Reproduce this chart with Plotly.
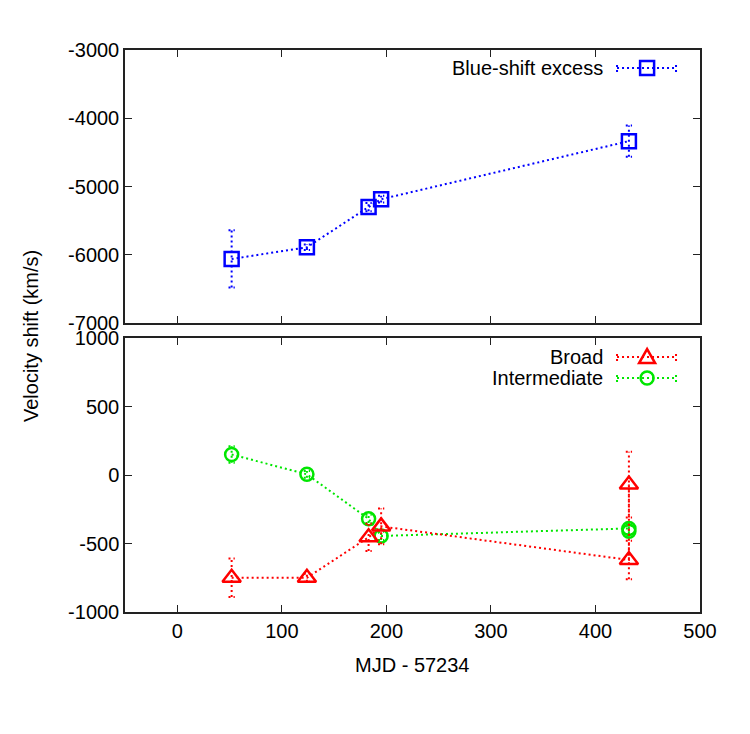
import plotly.graph_objects as go

# ---------------- data ----------------
blue_x = [52, 124, 183, 195, 432]
blue_y = [-6060, -5890, -5300, -5185, -4335]
blue_err = [420, 40, 60, 50, 230]

broad_x = [52, 124, 183, 195, 432, 432]
broad_y = [-750, -750, -455, -375, -620, -70]
broad_err = [140, 30, 100, 130, 140, 240]

inter_x = [52, 124, 183, 195, 432, 432]
inter_y = [150, 5, -320, -445, -390, -410]
inter_err = [60, 25, 30, 30, 40, 40]

x_ticks = [0, 100, 200, 300, 400, 500]
top_ticks = [-7000, -6000, -5000, -4000, -3000]
bot_ticks = [-1000, -500, 0, 500, 1000]

BLUE = "#0000ff"
RED = "#ff0000"
GREEN = "#00e600"
FONT = "Liberation Sans"
DOT = "2px,3px"

fig = go.Figure()


def err_segments(xs, ys, es, cw=3):
    sx, sy = [], []
    for x, y, e in zip(xs, ys, es):
        sx += [x, x, None, x - cw, x + cw, None, x - cw, x + cw, None]
        sy += [y - e, y + e, None, y - e, y - e, None, y + e, y + e, None]
    return sx, sy


def add_series(xs, ys, es, color, symbol, size, xa, ya):
    ex, ey = err_segments(xs, ys, es)
    fig.add_trace(go.Scatter(x=ex, y=ey, mode="lines", xaxis=xa, yaxis=ya,
                             line=dict(color=color, width=2, dash=DOT),
                             hoverinfo="skip", showlegend=False))
    fig.add_trace(go.Scatter(x=xs, y=ys, mode="lines+markers", xaxis=xa, yaxis=ya,
                             line=dict(color=color, width=2, dash=DOT),
                             marker=dict(symbol=symbol, size=size, color=color,
                                         line=dict(color=color, width=2.5)),
                             showlegend=False))


add_series(blue_x, blue_y, blue_err, BLUE, "square-open", 14, "x2", "y2")
add_series(inter_x, inter_y, inter_err, GREEN, "circle-open", 13, "x", "y")
add_series(broad_x, broad_y, broad_err, RED, "triangle-up-open", 16, "x", "y")

axis_common = dict(showline=True, mirror="ticks", linecolor="#222222", linewidth=1.5,
                   ticks="inside", ticklen=7, tickwidth=1.2, tickcolor="#222222",
                   showgrid=False, zeroline=False,
                   tickfont=dict(family=FONT, size=20, color="black"))

fig.update_layout(
    width=750, height=734,
    margin=dict(l=125, r=50, t=50, b=122),
    paper_bgcolor="white", plot_bgcolor="white",
    font=dict(family=FONT, size=20, color="black"),
    xaxis=dict(domain=[0, 1], range=[-50, 500], anchor="y",
               tickvals=x_ticks, ticktext=[str(v) for v in x_ticks], **axis_common),
    yaxis=dict(domain=[0, 0.4875], range=[-1000, 1000], anchor="x",
               tickvals=bot_ticks, ticktext=[str(v) for v in bot_ticks], **axis_common),
    xaxis2=dict(domain=[0, 1], range=[-50, 500], anchor="y2",
                tickvals=x_ticks, showticklabels=False, **axis_common),
    yaxis2=dict(domain=[0.514, 1], range=[-7000, -3000], anchor="x2",
                tickvals=top_ticks, ticktext=[str(v) for v in top_ticks], **axis_common),
    showlegend=False,
)

# axis titles
fig.add_annotation(text="Velocity shift (km/s)", xref="paper", yref="paper",
                   x=-0.1635, y=0.491, textangle=-90, showarrow=False,
                   xanchor="center", yanchor="middle",
                   font=dict(family=FONT, size=20, color="black"))
fig.add_annotation(text="MJD - 57234", xref="paper", yref="paper",
                   x=0.5, y=-0.094, showarrow=False,
                   xanchor="center", yanchor="middle",
                   font=dict(family=FONT, size=20, color="black"))


# custom gnuplot-style legend (text, then sample)
def legend_entry(label, color, kind, ypaper):
    fig.add_annotation(text=label, xref="paper", yref="paper", x=0.835, y=ypaper,
                       xanchor="right", yanchor="middle", showarrow=False,
                       font=dict(family=FONT, size=20, color="black"))
    x0, x1, xm = 0.8557, 0.9583, 0.908
    ln = dict(color=color, width=2, dash=DOT)
    fig.add_shape(type="line", xref="paper", yref="paper", x0=x0, x1=x1,
                  y0=ypaper, y1=ypaper, line=ln)
    for xe in (x0, x1):
        fig.add_shape(type="line", xref="paper", yref="paper",
                      xsizemode="pixel", xanchor=xe, x0=0, x1=0,
                      ysizemode="pixel", yanchor=ypaper, y0=-4, y1=4, line=ln)
    mk = dict(xref="paper", yref="paper", xsizemode="pixel", xanchor=xm,
              ysizemode="pixel", yanchor=ypaper,
              line=dict(color=color, width=2.5), fillcolor="rgba(0,0,0,0)")
    if kind == "square":
        fig.add_shape(type="rect", x0=-7, x1=7, y0=-7, y1=7, **mk)
    elif kind == "circle":
        fig.add_shape(type="circle", x0=-6.5, x1=6.5, y0=-6.5, y1=6.5, **mk)
    else:
        fig.add_shape(type="path", path="M -8,-6 L 8,-6 L 0,8 Z", **mk)


legend_entry("Blue-shift excess", BLUE, "square", 0.968)
legend_entry("Broad", RED, "triangle", 0.4537)
legend_entry("Intermediate", GREEN, "circle", 0.4164)

fig.write_html("out.html")
